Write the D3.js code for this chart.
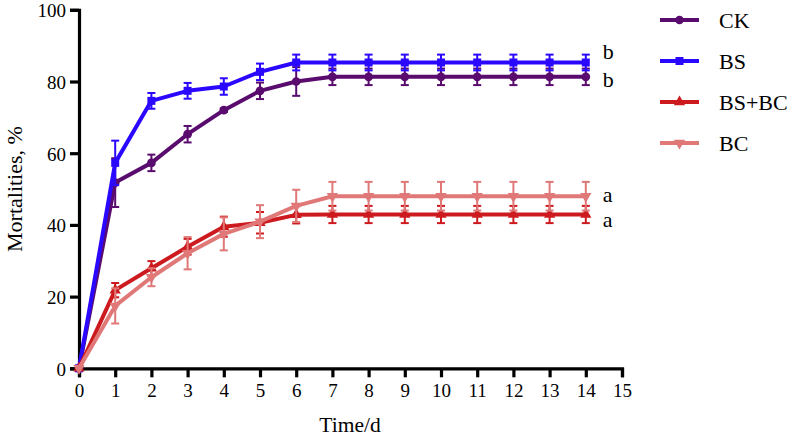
<!DOCTYPE html>
<html><head><meta charset="utf-8">
<script src="https://cdn.jsdelivr.net/npm/d3@7"></script>
<style>body{margin:0;background:#fff}svg{display:block}</style>
</head><body>
<script>
const days = [0,1,2,3,4,5,6,7,8,9,10,11,12,13,14];
const xTicks = [0,1,2,3,4,5,6,7,8,9,10,11,12,13,14,15];
const yTicks = [0,20,40,60,80,100];
const seriesNames = ["CK","BS","BS+BC","BC"];
const ckValues   = [0,51.8,57.3,65.3,72.0,77.4,80.0,81.3,81.3,81.3,81.3,81.3,81.3,81.3,81.3];
const ckErrors   = [0,6.8,2.3,2.3,0.5,2.3,4.0,2.3,2.3,2.3,2.3,2.3,2.3,2.3,2.3];
const bsValues   = [0,57.3,74.6,77.4,78.6,82.7,85.3,85.3,85.3,85.3,85.3,85.3,85.3,85.3,85.3];
const bsErrors   = [0,6.2,2.2,2.2,2.3,2.3,2.2,2.2,2.2,2.2,2.2,2.2,2.2,2.2,2.2];
const bsbcValues = [0,21.8,27.9,33.9,39.5,40.6,42.8,42.9,42.9,42.9,42.9,42.9,42.9,42.9,42.9];
const bsbcErrors = [0,2.0,2.0,2.2,2.8,3.0,2.4,2.4,2.4,2.4,2.4,2.4,2.4,2.4,2.4];
const bcValues   = [0,17.4,25.4,32.1,37.5,40.9,45.3,48.0,48.0,48.0,48.0,48.0,48.0,48.0,48.0];
const bcErrors   = [0,4.9,2.5,4.5,4.6,4.6,4.5,4.0,4.0,4.0,4.0,4.0,4.0,4.0,4.0];
const sigLetters = ["b","b","a","a"];
const colors = ["#5a0c6e","#2a08ff","#cc1a1f","#e07878"];
const markers = [d3.symbolCircle, d3.symbolSquare, d3.symbolTriangle, d3.symbolTriangle];

const FONT = "'Liberation Serif', 'Times New Roman', Times, 'DejaVu Serif', serif";

const series = seriesNames.map((n,i)=>({name:n,
  values:[ckValues,bsValues,bsbcValues,bcValues][i],
  errors:[ckErrors,bsErrors,bsbcErrors,bcErrors][i],
  color:colors[i], marker:markers[i], flip:i===3, letter:sigLetters[i]}));

const W=791,H=438;
const svg=d3.select("body").append("svg").attr("width",W).attr("height",H)
  .style("font-family",FONT);
const x=d3.scaleLinear().domain([0,15]).range([79,622]);
const y=d3.scaleLinear().domain([0,100]).range([368.3,9.8]);

// axes
const xAxis=svg.append("g").attr("transform",`translate(0,${y(0)})`)
  .call(d3.axisBottom(x).tickValues(xTicks).tickSize(9).tickPadding(6).tickFormat(d3.format("d")));
const yAxis=svg.append("g").attr("transform",`translate(${x(0)},0)`)
  .call(d3.axisLeft(y).tickValues(yTicks).tickSize(9).tickPadding(4).tickFormat(d3.format("d")));
[xAxis,yAxis].forEach(g=>{
  g.attr("font-family",null).style("font-family",FONT);
  g.select(".domain").attr("stroke","#000").attr("stroke-width",3.2);
  g.selectAll(".tick line").attr("stroke","#000").attr("stroke-width",3.2);
  g.selectAll(".tick text").attr("font-size",19).style("font-family",FONT).attr("fill","#000");
});
yAxis.selectAll(".tick text").attr("dy","0.36em");

// lines, error bars, markers
const line=d3.line().x((d,i)=>x(days[i])).y(d=>y(d));
const symSize = m => m===d3.symbolSquare?64:(m===d3.symbolCircle?60:55);
series.forEach(s=>{
  const g=svg.append("g");
  s.values.forEach((v,i)=>{
    const e=s.errors[i]; if(!e) return;
    const cx=x(days[i]);
    g.append("line").attr("x1",cx).attr("x2",cx).attr("y1",y(v+e)).attr("y2",y(v-e))
      .attr("stroke",s.color).attr("stroke-width",2);
    [v+e,v-e].forEach(t=>g.append("line").attr("x1",cx-4).attr("x2",cx+4).attr("y1",y(t)).attr("y2",y(t))
      .attr("stroke",s.color).attr("stroke-width",2));
  });
  g.append("path").datum(s.values).attr("d",line).attr("fill","none")
    .attr("stroke",s.color).attr("stroke-width",4).attr("stroke-linejoin","round");
  const sym=d3.symbol().type(s.marker).size(symSize(s.marker));
  s.values.forEach((v,i)=>{
    g.append("path").attr("d",sym()).attr("fill",s.color)
      .attr("transform",`translate(${x(days[i])},${y(v)})${s.flip?" rotate(180)":""}`);
  });
});

// significance letters
const letterY=[52.5,80,195,220.5];
series.forEach((s,i)=>{
  svg.append("text").attr("x",x(14)+17).attr("y",letterY[i]).attr("dy","0.3em")
    .attr("font-size",22).style("font-family",FONT).text(s.letter);
});

// legend
const legY=[20,61,102,143];
series.forEach((s,i)=>{
  const g=svg.append("g").attr("transform",`translate(0,${legY[i]})`);
  g.append("line").attr("x1",660).attr("x2",699).attr("y1",0).attr("y2",0)
    .attr("stroke",s.color).attr("stroke-width",4);
  const sym=d3.symbol().type(s.marker).size(symSize(s.marker));
  g.append("path").attr("d",sym()).attr("fill",s.color).attr("transform",`translate(679.5,0)${s.flip?" rotate(180)":""}`);
  g.append("text").attr("x",719).attr("y",0).attr("dy","0.35em").attr("font-size",22)
    .style("font-family",FONT).text(s.name);
});

// axis titles
svg.append("text").attr("x",350).attr("y",432).attr("text-anchor","middle")
  .attr("font-size",21.5).style("font-family",FONT).text("Time/d");
svg.append("text").attr("transform",`translate(14,${y(50)}) rotate(-90)`).attr("dy","0.35em")
  .attr("text-anchor","middle").attr("font-size",22).style("font-family",FONT).text("Mortalities, %");
</script>
</body></html>
